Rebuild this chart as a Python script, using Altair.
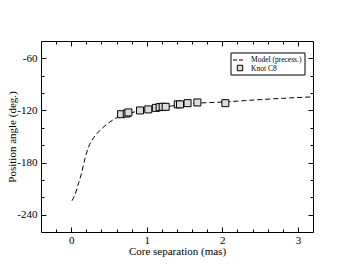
import altair as alt
import pandas as pd

# Knot C8 measurements (core separation in mas, position angle in deg)
knot_x = [0.66, 0.735, 0.757, 0.91, 1.02, 1.12, 1.17, 1.21, 1.25, 1.41, 1.44, 1.54, 1.67, 2.04]
knot_pa = [-124.3, -123.5, -122.3, -120.0, -118.8, -117.0, -116.2, -115.8, -115.8,
           -113.0, -113.0, -111.6, -110.8, -111.6]

# Precession model curve
model_x = [0.01, 0.05, 0.1, 0.14, 0.18, 0.23, 0.3, 0.38, 0.5, 0.6, 0.7, 0.8, 0.9,
           1.0, 1.2, 1.4, 1.6, 1.8, 2.0, 2.5, 2.8, 3.2]
model_pa = [-224, -217, -203, -191, -176, -162, -151, -143, -134, -128.5, -125, -122.5,
            -120.5, -119, -116.5, -114, -112, -111, -110.3, -107.5, -106, -104.3]

series_names = ["Model (precess.)", "Knot C8"]
x_ticks = [round(-0.2 + 0.2 * i, 1) for i in range(17)]
y_ticks = list(range(-240, -59, 20))

FONT = "Liberation Serif"

model_df = pd.DataFrame({"x": model_x, "pa": model_pa})
knot_df = pd.DataFrame({"x": knot_x, "pa": knot_pa})

x_scale = alt.Scale(domain=[-0.4, 3.2], nice=False, zero=False)
y_scale = alt.Scale(domain=[-260, -40], nice=False, zero=False)

X_MAJOR = "abs(datum.value - round(datum.value)) < 0.001"
Y_MAJOR = "abs(datum.value % 60) < 0.001"


def make_axis(orient, values, major, labels, title="", label_pad=2, title_pad=2):
    return alt.Axis(
        orient=orient, values=values, offset=-5, tickSize=5, domain=False, grid=False,
        labels=labels, tickColor="black", tickWidth=1,
        tickDash={"condition": {"test": major, "value": [10, 0]}, "value": [0, 2, 3]},
        labelFont=FONT, labelFontSize=11, labelColor="black", labelPadding=label_pad,
        labelFlush=False, labelOverlap=False,
        labelExpr=f"{major} ? '' + round(datum.value) : ''",
        title=title,
        titleFont=FONT, titleFontSize=11, titleFontWeight="normal", titleColor="black",
        titlePadding=title_pad,
    )


line = alt.Chart(model_df).mark_line(
    color="black", strokeDash=[5, 3], strokeWidth=1, interpolate="monotone"
).encode(
    x=alt.X("x:Q", scale=x_scale,
            axis=make_axis("bottom", x_ticks, X_MAJOR, True, "Core separation (mas)", 2, 0)),
    y=alt.Y("pa:Q", scale=y_scale,
            axis=make_axis("left", y_ticks, Y_MAJOR, True, "Position angle (deg.)", 4, -1)),
)

points = alt.Chart(knot_df).mark_square(
    fill="#dcdcdc", stroke="black", strokeWidth=1, size=49, opacity=1
).encode(
    x=alt.X("x:Q", scale=x_scale, axis=make_axis("top", x_ticks, X_MAJOR, False)),
    y=alt.Y("pa:Q", scale=y_scale, axis=make_axis("right", y_ticks, Y_MAJOR, False)),
)

# ---- legend (drawn in pixel space inside the plot area) ----
leg_df = pd.DataFrame({"label": series_names})
leg_box = alt.Chart(leg_df.head(1)).mark_rect(
    fill="white", stroke="black", strokeWidth=1
).encode(x=alt.value(190), x2=alt.value(264), y=alt.value(12), y2=alt.value(34))
leg_dash = alt.Chart(leg_df.head(1)).mark_rule(
    color="black", strokeWidth=1, strokeDash=[4, 2]
).encode(x=alt.value(192), x2=alt.value(202), y=alt.value(19))
leg_sq = alt.Chart(leg_df.head(1)).mark_square(
    fill="#dcdcdc", stroke="black", strokeWidth=1, size=30, opacity=1
).encode(x=alt.value(199), y=alt.value(27))
leg_t1 = alt.Chart(leg_df.head(1)).mark_text(
    font=FONT, fontSize=7.5, color="black", align="left", baseline="middle"
).encode(x=alt.value(210), y=alt.value(19), text="label:N")
leg_t2 = alt.Chart(leg_df.tail(1)).mark_text(
    font=FONT, fontSize=7.5, color="black", align="left", baseline="middle"
).encode(x=alt.value(210), y=alt.value(27.5), text="label:N")

chart = alt.layer(
    line, points, leg_box, leg_dash, leg_sq, leg_t1, leg_t2
).resolve_axis(
    x="independent", y="independent"
).properties(
    width=272, height=191,
    autosize=alt.AutoSizeParams(type="none"),
    padding={"left": 33, "top": 33, "right": 32, "bottom": 33},
).configure(
    font=FONT
).configure_view(
    stroke="black", strokeWidth=1
).configure_axis(
    titleFont=FONT, labelFont=FONT, titleFontWeight="normal"
)

chart.save("out.html", embed_options={"renderer": "svg", "actions": False})
